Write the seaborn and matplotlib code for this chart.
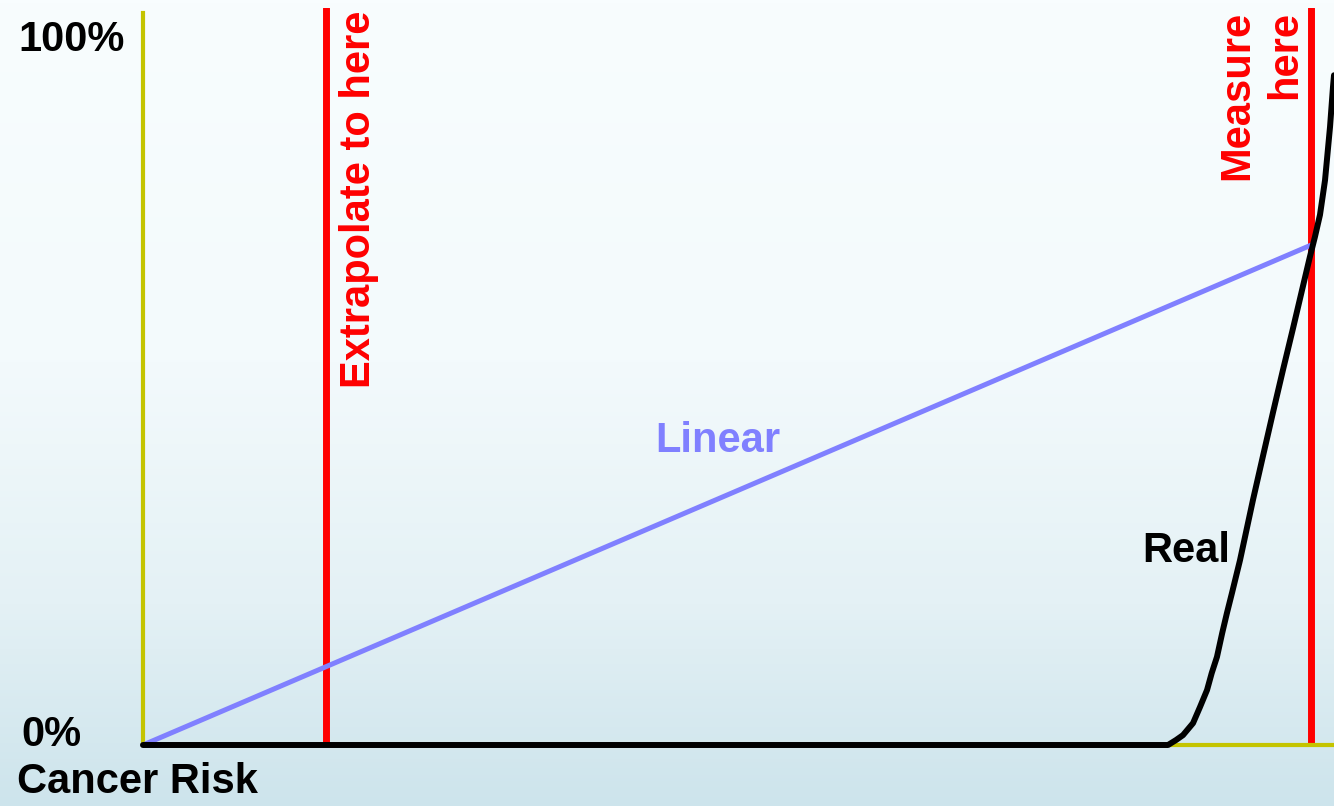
import numpy as np
import pandas as pd
import matplotlib
matplotlib.use("Agg")
import matplotlib.pyplot as plt
from matplotlib.colors import LinearSegmentedColormap
import seaborn as sns

# ---- data (dose on 0-100 scale where 100 = "measure here"; risk in %) ----
linear_dose = [0, 100]
linear_risk = [0, 70.9]

real_dose = [0, 87.76, 88.44, 89.04, 89.9, 90.5, 91.1, 91.5, 91.95, 92.4, 92.8, 93.24,
             93.92, 95.03, 95.89, 96.75, 97.6, 98.46, 99.3, 99.9, 100.34, 100.77,
             101.2, 101.63, 101.88, 101.97]
real_risk = [0, 0, 0.7, 1.4, 3.1, 5.4, 7.8, 10.2, 12.5, 15.9, 18.7, 21.6,
             26.2, 34.75, 41.0, 47.2, 53.2, 59.1, 65.0, 69.2, 72.1, 75.2,
             80.1, 87.7, 93.3, 95.0]

extrapolate_dose = 15.7
measure_dose = 100.0

ytick_labels = ["100%", "0%"]
xlabel = "Cancer Risk"

W, H = 1334, 806
sns.set_theme(style="white")
plt.rcParams['font.family'] = ['Liberation Sans', 'DejaVu Sans']

fig = plt.figure(figsize=(W / 100, H / 100), dpi=100)

# background gradient
bg = fig.add_axes([0, 0, 1, 1])
bg.set_axis_off()
cmap = LinearSegmentedColormap.from_list(
    "bg", [(0.0, "#f8fdfe"), (0.45, "#f3fafc"), (0.75, "#e4f1f5"), (1.0, "#cde4ec")])
grad = np.linspace(0, 1, 256).reshape(-1, 1)
bg.imshow(grad, aspect="auto", cmap=cmap, extent=[0, 1, 0, 1], origin="upper")
bg.set_xlim(0, 1)
bg.set_ylim(0, 1)

# main axes
left_px, right_px, bottom_px, top_px = 143, 1334, 745, 8
ax = fig.add_axes([left_px / W, 1 - bottom_px / H, (right_px - left_px) / W, (bottom_px - top_px) / H])
ax.patch.set_alpha(0)
x_max = (right_px - left_px) / 11.68
y_max = (bottom_px - top_px) / 7.05
ax.set_xlim(0, x_max)
ax.set_ylim(0, y_max)

for s in ["top", "right"]:
    ax.spines[s].set_visible(False)
for s in ["left", "bottom"]:
    ax.spines[s].set_color("#c4c400")
    ax.spines[s].set_linewidth(3.0)
ax.spines["left"].set_bounds(0, (bottom_px - 13) / 7.05)
ax.set_xticks([])
ax.set_yticks([])

# red vertical lines
for xd in [extrapolate_dose, measure_dose]:
    ax.axvline(xd, color="#ff0000", lw=5, zorder=2)

lin = pd.DataFrame({"dose": linear_dose, "risk": linear_risk})
real = pd.DataFrame({"dose": real_dose, "risk": real_risk})
sns.lineplot(data=lin, x="dose", y="risk", ax=ax, color="#8080ff", lw=3.6, zorder=3, clip_on=False)
sns.lineplot(data=real, x="dose", y="risk", ax=ax, color="black", lw=4.3, zorder=4,
             clip_on=False, sort=False)
for l in ax.lines:
    l.set_solid_joinstyle("round")
    l.set_solid_capstyle("round")
ax.set_xlabel("")
ax.set_ylabel("")

fs = 30
ax.text((359 - 143) / 11.68, (745 - 11) / 7.05, "Extrapolate to here", rotation=90,
        ha="center", va="top", color="#ff0000", fontsize=fs, fontweight="bold")
ax.text((1237 - 143) / 11.68, (745 - 11) / 7.05, "Measure", rotation=90,
        ha="center", va="top", color="#ff0000", fontsize=fs, fontweight="bold")
ax.text((1285 - 143) / 11.68, (745 - 11) / 7.05, "here", rotation=90,
        ha="center", va="top", color="#ff0000", fontsize=fs, fontweight="bold")
ax.text(49.2, 41.6, "Linear", ha="center", va="baseline", color="#8080ff",
        fontsize=fs, fontweight="bold")
ax.text(89.3, 26.0, "Real", ha="center", va="baseline", color="black",
        fontsize=fs, fontweight="bold")

fig.text(125 / W, 1 - 51 / H, ytick_labels[0], ha="right", va="baseline", fontsize=fs,
         fontweight="bold", color="black")
fig.text(21 / W, 1 - 746 / H, ytick_labels[1], ha="left", va="baseline", fontsize=fs,
         fontweight="bold", color="black")
fig.text(17 / W, 1 - 793 / H, xlabel, ha="left", va="baseline", fontsize=fs,
         fontweight="bold", color="black")

fig.savefig("out.png", dpi=100)
